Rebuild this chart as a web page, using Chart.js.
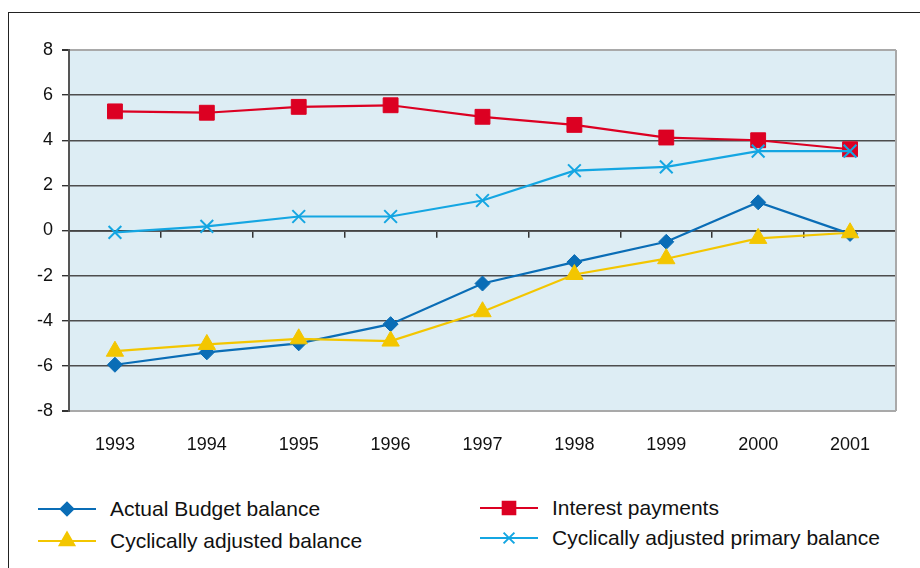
<!DOCTYPE html>
<html>
<head>
<meta charset="utf-8">
<script src="https://cdn.jsdelivr.net/npm/chart.js@4/dist/chart.umd.min.js"></script>
<style>
        body { margin: 0; background: #fff; font-family: "Liberation Sans", Arial, sans-serif; }
        .page { position: relative; width: 920px; height: 568px; overflow: hidden; }
        .frame { position: absolute; left: 8px; top: 12px; width: 920px; height: 568px;
                border-top: 1.5px solid #222; border-left: 1.5px solid #222; }
        #chartBox { position: absolute; left: 0; top: 0; width: 920px; height: 462px; }
        .legend-item { position: absolute; display: flex; align-items: center; font-size: 21px; color: #111; }
        .legend-item canvas { margin-right: 14px; }
</style>
</head>
<body>
<div class="page">
        <div class="frame"></div>
        <div id="chartBox"><canvas id="myChart"></canvas></div>
        <div id="legend"></div>
</div>
<script>
//du lieu
const years = ['1993', '1994', '1995', '1996', '1997', '1998', '1999', '2000', '2001'];
const actualBalance = [-5.95, -5.4, -5.0, -4.15, -2.35, -1.4, -0.5, 1.25, -0.15];
const cyclicalBalance = [-5.35, -5.05, -4.8, -4.9, -3.6, -1.95, -1.25, -0.35, -0.1];
const interestPayments = [5.28, 5.22, 5.48, 5.55, 5.04, 4.68, 4.12, 4.0, 3.6];
const primaryBalance = [-0.08, 0.18, 0.62, 0.62, 1.33, 2.65, 2.82, 3.52, 3.52];
const yTicks = [-8, -6, -4, -2, 0, 2, 4, 6, 8];

// series style (first in list is drawn on top)
const series = [
        { label: 'Cyclically adjusted primary balance', data: primaryBalance, color: '#14a6e2', point: 'crossRot', radius: 9 },
        { label: 'Interest payments', data: interestPayments, color: '#dc0022', point: 'rect', radius: 10.5 },
        { label: 'Cyclically adjusted balance', data: cyclicalBalance, color: '#f3c600', point: 'triangle', radius: 10 },
        { label: 'Actual Budget balance', data: actualBalance, color: '#0a6db6', point: 'rectRot', radius: 7.5 }
];

const datasets = series.map(s => ({
        label: s.label,
        data: s.data,
        borderColor: s.color,
        backgroundColor: s.color,
        borderWidth: 2.2,
        pointStyle: s.point,
        pointRadius: s.radius,
        pointBorderWidth: s.point == 'crossRot' ? 2 : 1,
        pointBackgroundColor: s.color,
        pointBorderColor: s.color,
        tension: 0
}));

// nen xanh + vien phai
const plotBack = {
        id: 'plotBack',
        beforeDraw(chart) {
                const a = chart.chartArea;
                const ctx = chart.ctx;
                ctx.save();
                ctx.fillStyle = '#ddedf4';
                ctx.fillRect(a.left, a.top, a.right - a.left, a.bottom - a.top);
                ctx.restore();
        },
        beforeDatasetsDraw(chart) {
                const a = chart.chartArea;
                const ctx = chart.ctx;
                ctx.save();
                ctx.strokeStyle = '#a9a9a9';
                ctx.lineWidth = 2;
                ctx.beginPath();
                ctx.moveTo(a.right, a.top);
                ctx.lineTo(a.right, a.bottom);
                ctx.stroke();
                ctx.restore();
        }
};

const tickFont = { family: '"Liberation Sans", Arial, sans-serif', size: 18 };

const config = {
        type: 'line',
        data: { labels: years, datasets: datasets },
        options: {
                responsive: true,
                maintainAspectRatio: false,
                animation: false,
                layout: { padding: { top: 50, right: 24, left: 0, bottom: 0 } },
                plugins: { legend: { display: false }, tooltip: { enabled: false } },
                scales: {
                        x: {
                                type: 'category',
                                offset: true,
                                grid: { display: false },
                                border: { display: false },
                                ticks: { color: '#111', font: tickFont, padding: 15, maxRotation: 0, autoSkip: false },
                                afterFit(scale) { scale.height = 51; }
                        },
                        xZero: {
                                type: 'category',
                                axis: 'x',
                                position: { y: 0 },
                                offset: true,
                                grid: { offset: true, drawOnChartArea: false, drawTicks: true, tickLength: 6, color: '#333', lineWidth: 1.5 },
                                border: { display: true, color: '#444', width: 1.8 },
                                ticks: { display: false }
                        },
                        y: {
                                min: -8,
                                max: 8,
                                afterBuildTicks(scale) { scale.ticks = yTicks.map(v => ({ value: v })); },
                                grid: {
                                        color: c => (c.tick && Math.abs(c.tick.value) == 8) ? '#a9a9a9' : '#4d4d4d',
                                        lineWidth: c => (c.tick && Math.abs(c.tick.value) == 8) ? 2 : 1.4,
                                        tickColor: '#333',
                                        tickLength: 7
                                },
                                border: { display: true, color: '#555', width: 2 },
                                ticks: { color: '#111', font: tickFont, padding: 9 },
                                afterFit(scale) { scale.width = 69; }
                        }
                }
        },
        plugins: [plotBack]
};

const myChart = new Chart(document.getElementById('myChart'), config);

// legend 2 cot
const legendOrder = [
        { s: series[3], left: 38, top: 509 },
        { s: series[2], left: 38, top: 541 },
        { s: series[1], left: 480, top: 508 },
        { s: series[0], left: 480, top: 538 }
];
const legendBox = document.getElementById('legend');
legendOrder.forEach(item => {
        const div = document.createElement('div');
        div.className = 'legend-item';
        div.style.left = item.left + 'px';
        div.style.top = (item.top - 12) + 'px';
        const c = document.createElement('canvas');
        c.width = 58;
        c.height = 24;
        const ctx = c.getContext('2d');
        ctx.strokeStyle = item.s.color;
        ctx.lineWidth = 2;
        ctx.beginPath();
        ctx.moveTo(0, 12);
        ctx.lineTo(58, 12);
        ctx.stroke();
        ctx.fillStyle = item.s.color;
        Chart.helpers.drawPoint(ctx, {
                pointStyle: item.s.point,
                radius: item.s.radius * 0.85,
                borderWidth: item.s.point == 'crossRot' ? 2 : 1,
                rotation: 0
        }, 29, 12);
        div.appendChild(c);
        const span = document.createElement('span');
        span.innerText = item.s.label;
        div.appendChild(span);
        legendBox.appendChild(div);
});
</script>
</body>
</html>
